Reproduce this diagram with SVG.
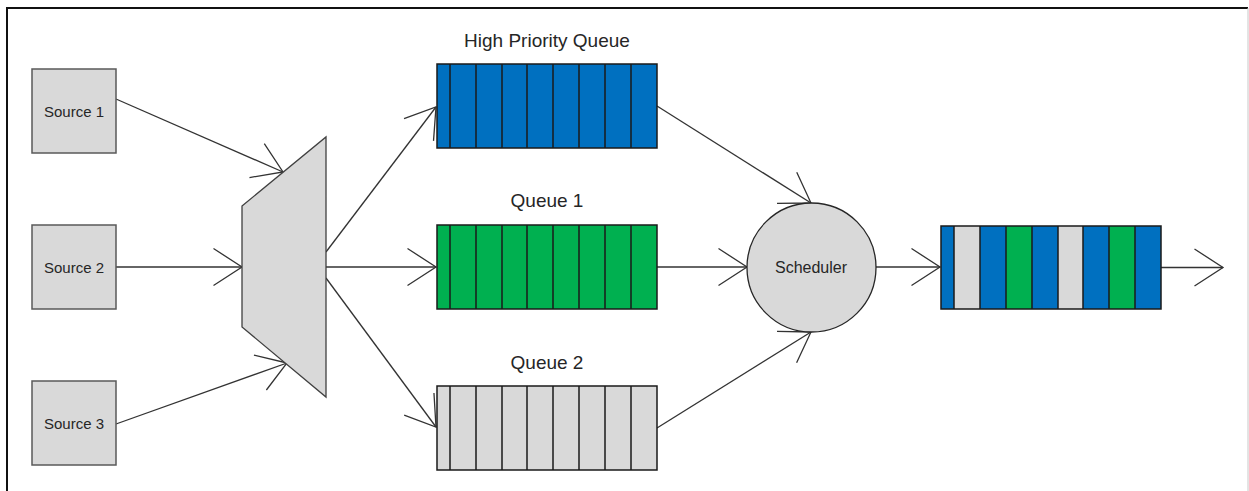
<svg xmlns="http://www.w3.org/2000/svg" width="1249" height="491" viewBox="0 0 1249 491">
<style>
.frame{stroke:#111;stroke-width:2;fill:none}
.src{fill:#D9D9D9;stroke:#595959;stroke-width:1.5}
.mux{fill:#D9D9D9;stroke:#404040;stroke-width:1.3}
.qb{fill:#0070C0}
.qg{fill:#00B050}
.qy{fill:#D9D9D9}
.cellline{stroke:#1a1a1a;stroke-width:1.5;fill:none}
.sched{fill:#D9D9D9;stroke:#262626;stroke-width:1.3}
.lbl{font-family:"Liberation Sans",Arial,sans-serif;fill:#262626;text-anchor:middle}
.conn{stroke:#333;stroke-width:1.3;fill:none;marker-end:url(#arr)}
</style>
<defs>
<marker id="arr" markerUnits="userSpaceOnUse" viewBox="-32 -22 34 44" refX="0" refY="0" markerWidth="34" markerHeight="44" orient="auto" overflow="visible">
<path d="M-28.5,-18.5 L0,0 L-28.5,18.5" fill="none" stroke="#333" stroke-width="1.3"/>
</marker>
</defs>
<rect width="1249" height="491" fill="#fff"/>
<path class="frame" d="M7,491 L7,8 L1248,8"/>
<line x1="1248" y1="8" x2="1248" y2="491" stroke="#c8c8c8" stroke-width="1"/>

<g id="connectors">
<line class="conn" x1="116" y1="99" x2="283" y2="172"/>
<line class="conn" x1="116" y1="267" x2="242" y2="267"/>
<line class="conn" x1="116" y1="424" x2="287" y2="363"/>
<line class="conn" x1="326" y1="252" x2="436" y2="107"/>
<line class="conn" x1="326" y1="267" x2="436" y2="267"/>
<line class="conn" x1="326" y1="278" x2="436" y2="427"/>
<line class="conn" x1="657" y1="106" x2="811" y2="203"/>
<line class="conn" x1="657" y1="267" x2="747" y2="267"/>
<line class="conn" x1="657" y1="428" x2="811" y2="332"/>
<line class="conn" x1="876" y1="267" x2="940" y2="267"/>
<line class="conn" x1="1161" y1="267.5" x2="1223" y2="267.5"/>
</g>

<g id="source1">
<rect class="src" x="32" y="69" width="84" height="84"/>
<text class="lbl" x="74" y="117" font-size="15">Source 1</text>
</g>
<g id="source2">
<rect class="src" x="32" y="225" width="84" height="84"/>
<text class="lbl" x="74" y="273" font-size="15">Source 2</text>
</g>
<g id="source3">
<rect class="src" x="32" y="381" width="84" height="84"/>
<text class="lbl" x="74" y="429" font-size="15">Source 3</text>
</g>

<g id="mux">
<polygon class="mux" points="242,206 326,137 326,397 242,327"/>
</g>

<g id="hpq">
<text class="lbl" x="547" y="47" font-size="19">High Priority Queue</text>
<rect class="qb" x="437" y="64" width="220" height="84"/>
<path class="cellline" d="M437,64 H657 V148 H437 Z M450,64 V148 M476,64 V148 M502,64 V148 M527,64 V148 M553,64 V148 M579,64 V148 M605,64 V148 M631,64 V148"/>
</g>
<g id="queue1">
<text class="lbl" x="547" y="207" font-size="19">Queue 1</text>
<rect class="qg" x="437" y="225" width="220" height="84"/>
<path class="cellline" d="M437,225 H657 V309 H437 Z M450,225 V309 M476,225 V309 M502,225 V309 M527,225 V309 M553,225 V309 M579,225 V309 M605,225 V309 M631,225 V309"/>
</g>
<g id="queue2">
<text class="lbl" x="547" y="369" font-size="19">Queue 2</text>
<rect class="qy" x="437" y="386" width="220" height="84"/>
<path class="cellline" d="M437,386 H657 V470 H437 Z M450,386 V470 M476,386 V470 M502,386 V470 M527,386 V470 M553,386 V470 M579,386 V470 M605,386 V470 M631,386 V470" stroke="#333"/>
</g>

<g id="scheduler">
<circle class="sched" cx="811.5" cy="267.5" r="64.5"/>
<text class="lbl" x="811" y="273" font-size="16">Scheduler</text>
</g>

<g id="output">
<rect class="qb" x="941" y="226" width="13" height="83"/>
<rect class="qy" x="954" y="226" width="26" height="83"/>
<rect class="qb" x="980" y="226" width="26" height="83"/>
<rect class="qg" x="1006" y="226" width="26" height="83"/>
<rect class="qb" x="1032" y="226" width="26" height="83"/>
<rect class="qy" x="1058" y="226" width="25" height="83"/>
<rect class="qb" x="1083" y="226" width="26" height="83"/>
<rect class="qg" x="1109" y="226" width="26" height="83"/>
<rect class="qb" x="1135" y="226" width="26" height="83"/>
<path class="cellline" d="M941,226 H1161 V309 H941 Z M954,226 V309 M980,226 V309 M1006,226 V309 M1032,226 V309 M1058,226 V309 M1083,226 V309 M1109,226 V309 M1135,226 V309"/>
</g>
</svg>
